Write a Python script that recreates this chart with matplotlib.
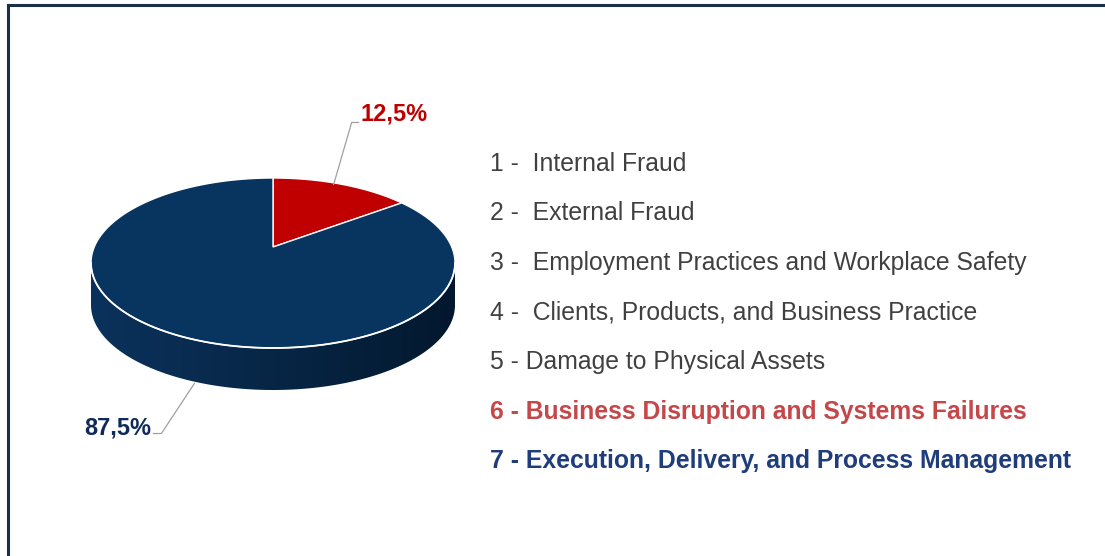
import numpy as np
import matplotlib
matplotlib.use('Agg')
from matplotlib import pyplot as plt
from matplotlib.patches import Polygon
from matplotlib.lines import Line2D
from matplotlib.colors import LinearSegmentedColormap

# datos
valores = [12.5, 87.5]
etiquetas_pct = ['12,5%', '87,5%']
colores_top = ['#c00000', '#083560']
colores_txt = ['#c00000', '#0f2a5a']

categorias = [
    '1 -  Internal Fraud',
    '2 -  External Fraud',
    '3 -  Employment Practices and Workplace Safety',
    '4 -  Clients, Products, and Business Practice',
    '5 - Damage to Physical Assets',
    '6 - Business Disruption and Systems Failures',
    '7 - Execution, Delivery, and Process Management',
]
colores_cat = ['#404040'] * 5 + ['#c4474a', '#1f3d7a']
negrita_cat = [False] * 5 + [True, True]

W, H = 1105, 556
fig = plt.figure(figsize=(W / 100, H / 100), dpi=100)
ax = fig.add_axes([0, 0, 1, 1])
ax.set_xlim(0, W)
ax.set_ylim(H, 0)
ax.axis('off')

# geometria del pastel 3D (pixeles)
cx, cy = 273, 263
rx, ry = 182, 85
prof = 42
apex = (273, 247)


def punto(t, dy=0):
    return cx + rx * np.cos(np.radians(t)), cy - ry * np.sin(np.radians(t)) + dy


# angulos (sentido horario desde las 12)
total = sum(valores)
inicio = 90
angulos = []
for v in valores:
    fin = inicio - v / total * 360
    angulos.append((inicio, fin))
    inicio = fin

# lateral frontal (mitad inferior de la elipse)
ts = np.linspace(180, 360, 200)
borde_sup = [punto(t) for t in ts]
borde_inf = [punto(t, prof) for t in ts[::-1]]
lateral = Polygon(borde_sup + borde_inf, closed=True, facecolor='none', edgecolor='none')
ax.add_patch(lateral)
cmap = LinearSegmentedColormap.from_list('lat', ['#0b325c', '#072646', '#03182e'])
grad = np.linspace(0, 1, 256).reshape(1, -1)
img = ax.imshow(grad, cmap=cmap, extent=(cx - rx, cx + rx, cy + prof + ry, cy), aspect='auto', zorder=1)
img.set_clip_path(lateral)
ax.set_xlim(0, W)
ax.set_ylim(H, 0)

# cara superior
for (a0, a1), c in zip(angulos, colores_top):
    ts = np.linspace(a0, a1, 200)
    pts = [apex] + [punto(t) for t in ts]
    ax.add_patch(Polygon(pts, closed=True, facecolor=c, edgecolor='white', linewidth=1.0, zorder=2))

# borde blanco frontal
ts = np.linspace(180, 360, 200)
xs, ys = zip(*[punto(t) for t in ts])
ax.plot(xs, ys, color='white', lw=1.3, zorder=3)

# etiquetas de porcentaje con lineas guia
for (a0, a1), txt, c in zip(angulos, etiquetas_pct, colores_txt):
    mid = (a0 + a1) / 2
    frente = np.sin(np.radians(mid)) < 0
    px, py = punto(mid, prof if frente else 0)
    px -= 9
    if np.cos(np.radians(mid)) >= 0:
        ex, ey = px + 18, py - 62
        ax.plot([px, ex, ex + 7], [py, ey, ey], color='#a0a0a0', lw=0.9, zorder=4)
        ax.text(ex + 9, ey - 8, txt, color=c, fontsize=17, fontweight='bold',
                family='Liberation Sans', ha='left', va='center')
    else:
        ex, ey = px - 33, py + 50
        ax.plot([px, ex, ex - 8], [py, ey, ey], color='#a0a0a0', lw=0.9, zorder=4)
        ax.text(ex - 10, ey - 6, txt, color=c, fontsize=17, fontweight='bold',
                family='Liberation Sans', ha='right', va='center')

# lista de categorias
y0, paso = 164, 49.5
for i, (txt, c, b) in enumerate(zip(categorias, colores_cat, negrita_cat)):
    ax.text(490, y0 + i * paso, txt, color=c, fontsize=17.8,
            family='Liberation Sans', fontweight='bold' if b else 'normal',
            ha='left', va='center')

# marco
fig.add_artist(Line2D([8, W], [H - 5, H - 5], transform=None, color='#1c2f4a', lw=2.2))
fig.add_artist(Line2D([8, 8], [H - 5, 0], transform=None, color='#1c2f4a', lw=2.2))

fig.savefig('out.png', dpi=100)
